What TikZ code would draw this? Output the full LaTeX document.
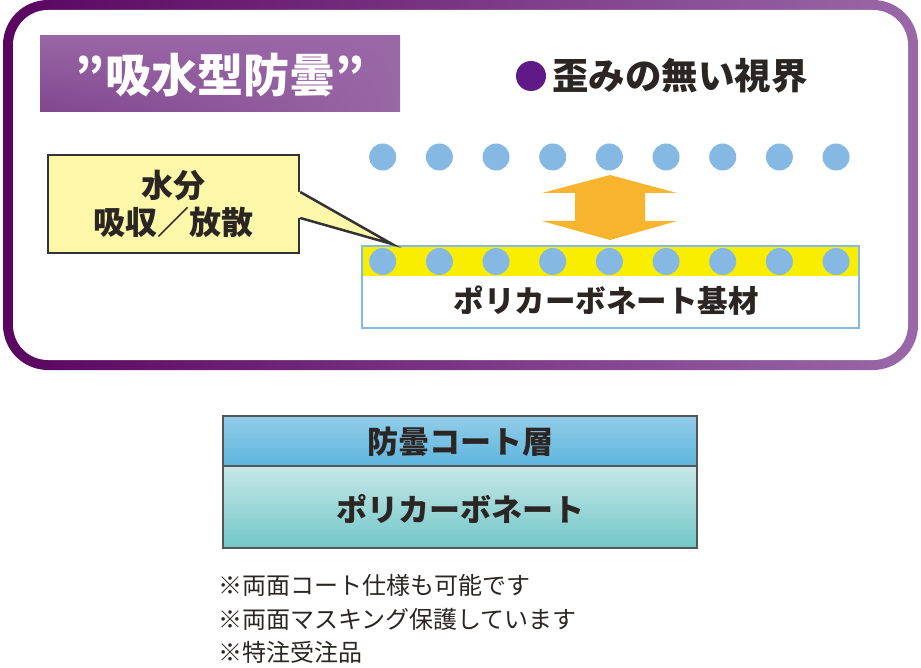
\documentclass[tikz,border=0pt]{standalone}
\usepackage{fontspec}
\setmainfont{Noto Sans CJK JP}
\usepackage{tikz}
\usetikzlibrary{positioning,shadings}
\definecolor{frameleft}{RGB}{90,5,96}
\definecolor{frameright}{RGB}{154,104,168}
\definecolor{titlepurple}{RGB}{153,102,166}
\definecolor{titledark}{RGB}{128,70,142}
\definecolor{bulletpurple}{RGB}{96,26,135}
\definecolor{inkdark}{RGB}{43,37,35}
\definecolor{dropblue}{RGB}{133,185,227}
\definecolor{coatyellow}{RGB}{249,238,0}
\definecolor{arroworange}{RGB}{248,180,45}
\definecolor{calloutfill}{RGB}{253,247,169}
\definecolor{calloutline}{RGB}{51,51,51}
\definecolor{coattop}{RGB}{147,205,233}
\definecolor{coatbot}{RGB}{93,181,221}
\definecolor{pctop}{RGB}{199,231,231}
\definecolor{pcbot}{RGB}{114,199,201}
\definecolor{boxline}{RGB}{85,85,85}
\tikzstyle{waterdot} = [circle, fill=dropblue, minimum size=27pt, inner sep=0pt]
\tikzstyle{headtext} = [text=inkdark, font=\fontsize{31}{34}\selectfont\bfseries, inner sep=0pt]
\tikzstyle{notetext} = [text=inkdark, font=\fontsize{24}{26}\selectfont, anchor=west, inner sep=0pt]

\begin{document}
\begin{tikzpicture}[x=1pt, y=-1pt]
\useasboundingbox (0,0) rectangle (921,668);
% Rounded frame
\shade[left color=frameleft, right color=frameright, rounded corners=45pt] (3,0) rectangle (918,370);
\fill[white, rounded corners=35pt] (13,10) rectangle (908,360);

% Title and headline
\shade[lower left=titledark, upper left=titlepurple, upper right=titlepurple, lower right=titlepurple] (40,36) rectangle (400,112);
\node[text=white, font=\fontsize{46}{50}\selectfont\bfseries, inner sep=0pt] (title) at (220,75) {”吸水型防曇”};
\node[circle, fill=bulletpurple, minimum size=30pt, inner sep=0pt] (bullet) at (531,76) {};
\node[headtext, font=\fontsize{36.5}{40}\selectfont\bfseries, right=6pt of bullet] (clearview) {歪みの無い視界};

% Water vapour
\foreach \i in {0,...,8} {
  \node[waterdot] (vapor\i) at (382.7+56.67*\i,157) {};
}

% Substrate with coat
\fill[coatyellow] (362,246) rectangle (859,276);
\foreach \i in {0,...,8} {
  \node[waterdot] (coat\i) at (382.7+56.67*\i,261.5) {};
}
\draw[dropblue, line width=2pt] (362,246) rectangle (859,328);
\node[headtext, font=\fontsize{30.5}{34}\selectfont\bfseries] (substrate) at (606,301) {ポリカーボネート基材};

% Double arrow
\fill[arroworange] (610,175) -- (677,193) -- (645,193) -- (645,221) -- (677,221) -- (610,240)
  -- (542,221) -- (575,221) -- (575,193) -- (542,193) -- cycle;

% Callout
\node[draw=calloutline, fill=calloutfill, line width=2.5pt, minimum width=251pt, minimum height=98pt,
  inner sep=0pt, align=center, text=inkdark, font=\fontsize{32}{37}\selectfont\bfseries] (callout) at (173.5,204) {水分\\吸収／放散};
\coordinate (ptrtop) at (callout.east |- 0,192);
\coordinate (ptrbot) at (callout.east |- 0,218);
\coordinate (tip) at (392,244);
\fill[calloutfill] ([xshift=-3pt]ptrtop) -- (ptrtop) -- (tip) -- (ptrbot) -- ([xshift=-3pt]ptrbot) -- cycle;
\draw[calloutline, line width=2.5pt, line join=miter] (ptrtop) -- (tip) -- (ptrbot);

% Layer diagram
\shade[top color=coattop, bottom color=coatbot] (223,416) rectangle (697,466);
\shade[top color=pctop, bottom color=pcbot] (223,466) rectangle (697,548);
\draw[boxline, line width=2pt] (223,416) rectangle (697,548) (223,466) -- (697,466);
\node[headtext] (coatlayer) at (460,442) {防曇コート層};
\node[headtext] (pclayer) at (460,509) {ポリカーボネート};

% Notes
\node[notetext] (note1) at (218,585) {※両面コート仕様も可能です};
\node[notetext] (note2) at (218,619) {※両面マスキング保護しています};
\node[notetext] (note3) at (218,652) {※特注受注品};
\end{tikzpicture}
\end{document}
